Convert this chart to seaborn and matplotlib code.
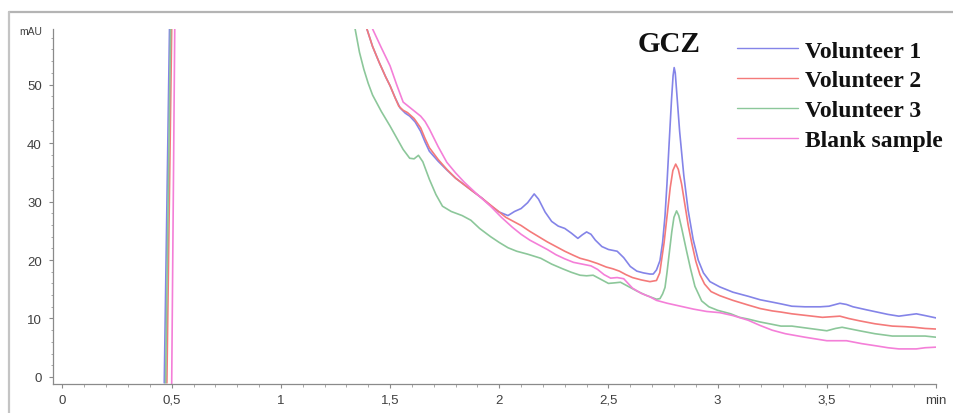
import numpy as np
import pandas as pd
import matplotlib
matplotlib.use("Agg")
import matplotlib.pyplot as plt
from matplotlib.lines import Line2D
from matplotlib.ticker import FixedLocator, MultipleLocator
import seaborn as sns

# ---------------- data ----------------
series_names = ["Volunteer 1", "Volunteer 2", "Volunteer 3", "Blank sample"]

v1_t = [0.466, 0.490, 0.500, 1.380, 1.394, 1.42, 1.45, 1.48, 1.50, 1.525, 1.546, 1.57, 1.59, 1.615,
        1.64, 1.66, 1.68, 1.72, 1.76, 1.80, 1.87, 1.92, 1.96, 2.00, 2.04, 2.07, 2.10, 2.13, 2.16,
        2.18, 2.21, 2.24, 2.27, 2.30, 2.33, 2.36, 2.38, 2.40, 2.42, 2.44, 2.47, 2.50, 2.54, 2.57,
        2.60, 2.63, 2.66, 2.69, 2.705, 2.72, 2.736, 2.748, 2.759, 2.768, 2.778, 2.789, 2.796,
        2.801, 2.806, 2.812, 2.826, 2.845, 2.865, 2.888, 2.911, 2.935, 2.965, 3.01, 3.07,
        3.14, 3.195, 3.25, 3.29, 3.34, 3.40, 3.47, 3.51, 3.56, 3.59, 3.62, 3.68, 3.73, 3.78, 3.83,
        3.87, 3.91, 3.95, 4.0]
v1_y = [-1.0, 59.5, 80, 80, 59.5, 56.5, 53.8, 51.3, 49.8, 47.6, 46.0, 45.1, 44.6, 43.6,
        42.0, 40.2, 38.6, 36.9, 35.4, 34.0, 32.0, 30.6, 29.3, 28.2, 27.6, 28.3, 28.8, 29.8, 31.3,
        30.4, 28.2, 26.6, 25.8, 25.4, 24.6, 23.7, 24.3, 24.8, 24.4, 23.4, 22.3, 21.8, 21.5, 20.4,
        18.9, 18.1, 17.8, 17.6, 17.6, 18.3, 19.9, 23.0, 27.5, 33.0, 40.0, 47.5, 51.5,
        52.9, 52.0, 49.0, 42.0, 34.5, 28.5, 23.5, 20.0, 17.8, 16.3, 15.4, 14.5,
        13.8, 13.2, 12.8, 12.5, 12.1, 12.0, 12.0, 12.1, 12.6, 12.4, 12.0, 11.5, 11.1, 10.7, 10.4,
        10.6, 10.8, 10.5, 10.1]

v2_t = [0.478, 0.500, 0.510, 1.380, 1.394, 1.42, 1.45, 1.48, 1.50, 1.52, 1.54, 1.56, 1.58, 1.61,
        1.64, 1.66, 1.68, 1.72, 1.76, 1.80, 1.87, 1.92, 1.96, 2.00, 2.03, 2.06, 2.10, 2.14, 2.18,
        2.22, 2.26, 2.30, 2.34, 2.37, 2.41, 2.45, 2.49, 2.52, 2.55, 2.58, 2.61, 2.65, 2.69, 2.72,
        2.735, 2.743, 2.755, 2.766, 2.783, 2.795, 2.808, 2.82, 2.835, 2.85, 2.865, 2.881, 2.90,
        2.919, 2.94, 2.97, 3.01, 3.07, 3.14, 3.195, 3.25, 3.29, 3.34, 3.41, 3.48, 3.52, 3.56,
        3.60, 3.65, 3.72, 3.80, 3.86, 3.90, 3.95, 4.0]
v2_y = [-1.0, 59.5, 80, 80, 59.5, 56.5, 53.8, 51.3, 49.8, 48.0, 46.3, 45.6, 45.2, 44.2,
        42.6, 40.8, 39.2, 37.2, 35.5, 34.0, 32.0, 30.6, 29.4, 28.2, 27.3, 26.7, 25.9, 24.9, 24.0,
        23.1, 22.3, 21.5, 20.8, 20.3, 19.9, 19.4, 18.8, 18.5, 18.1, 17.5, 17.0, 16.6, 16.3, 16.5,
        17.8, 19.9, 23.0, 26.7, 32.4, 35.3, 36.4, 35.5, 33.0, 29.5, 26.0, 23.0, 19.8,
        17.5, 15.9, 14.6, 13.9, 13.1, 12.3, 11.7, 11.3, 11.1, 10.8, 10.5, 10.2, 10.3, 10.4,
        10.0, 9.6, 9.1, 8.7, 8.6, 8.5, 8.3, 8.2]

v3_t = [0.472, 0.495, 0.505, 1.330, 1.34, 1.36, 1.38, 1.40, 1.42, 1.46, 1.50, 1.53, 1.56, 1.59,
        1.61, 1.63, 1.65, 1.68, 1.71, 1.74, 1.78, 1.83, 1.87, 1.91, 1.96, 2.00, 2.04, 2.08, 2.13,
        2.19, 2.24, 2.29, 2.33, 2.37, 2.40, 2.43, 2.46, 2.50, 2.53, 2.555, 2.59, 2.63, 2.67, 2.72,
        2.736, 2.748, 2.759, 2.768, 2.778, 2.79, 2.80, 2.812, 2.822, 2.835, 2.858, 2.876, 2.896,
        2.927, 2.96, 3.00, 3.03, 3.06, 3.10, 3.14, 3.195, 3.25, 3.29, 3.34, 3.42, 3.50, 3.54,
        3.57, 3.61, 3.65, 3.72, 3.80, 3.86, 3.91, 3.95, 4.0]
v3_y = [-1.0, 59.5, 80, 80, 59.5, 55.5, 52.6, 50.2, 48.2, 45.4, 42.9, 40.9, 38.9, 37.4,
        37.3, 37.9, 36.8, 33.8, 31.2, 29.2, 28.3, 27.6, 26.8, 25.4, 24.0, 23.0, 22.1, 21.5, 21.0,
        20.3, 19.3, 18.5, 17.9, 17.4, 17.3, 17.4, 16.8, 16.0, 16.1, 16.2, 15.5, 14.7, 14.0, 13.3,
        13.4, 14.2, 15.3, 17.8, 21.0, 24.8, 27.3, 28.4, 27.6, 25.5, 21.5, 18.5, 15.5,
        13.0, 12.0, 11.4, 11.1, 10.8, 10.2, 9.9, 9.4, 9.0, 8.7, 8.7, 8.3, 7.9, 8.3,
        8.5, 8.2, 7.9, 7.4, 7.0, 7.0, 7.0, 7.0, 6.8]

blank_t = [0.500, 0.514, 0.525, 1.410, 1.42, 1.46, 1.50, 1.53, 1.56, 1.60, 1.64, 1.66, 1.68, 1.72,
           1.76, 1.80, 1.84, 1.90, 1.96, 2.01, 2.06, 2.10, 2.14, 2.18, 2.22, 2.26, 2.30, 2.34,
           2.38, 2.42, 2.45, 2.48, 2.51, 2.54, 2.57, 2.61, 2.65, 2.69, 2.72, 2.77, 2.83, 2.89,
           2.95, 3.01, 3.07, 3.14, 3.195, 3.25, 3.31, 3.40, 3.50, 3.55, 3.59, 3.66, 3.73, 3.78,
           3.83, 3.91, 3.95, 4.0]
blank_y = [-1.2, 59.5, 80, 80, 59.5, 56.3, 53.2, 50.0, 47.0, 45.8, 44.6, 43.7, 42.4, 39.4,
           36.7, 34.9, 33.3, 31.2, 29.2, 27.3, 25.6, 24.4, 23.4, 22.6, 21.8, 20.9, 20.2, 19.6,
           19.3, 19.0, 18.4, 17.5, 16.9, 17.0, 16.8, 15.2, 14.3, 13.7, 13.1, 12.6, 12.1, 11.6,
           11.2, 11.0, 10.5, 9.7, 8.8, 8.0, 7.4, 6.8, 6.2, 6.2, 6.2, 5.7, 5.3, 5.0,
           4.8, 4.8, 5.0, 5.1]

x_ticks = [0, 0.5, 1, 1.5, 2, 2.5, 3, 3.5, 4]
x_tick_labels = ["0", "0,5", "1", "1,5", "2", "2,5", "3", "3,5", "min"]
y_ticks = [0, 10, 20, 30, 40, 50]
y_tick_labels = ["0", "10", "20", "30", "40", "50"]
peak_label = "GCZ"
peak_pos = (2.777, 57.0)

colors = ["#8484e8", "#f47a7a", "#8cc79a", "#f47fd8"]

# ---------------- build long-form table ----------------
frames = []
for name, t, y in zip(series_names,
                      [v1_t, v2_t, v3_t, blank_t],
                      [v1_y, v2_y, v3_y, blank_y]):
    frames.append(pd.DataFrame({"t": t, "mAU": y, "sample": name}))
df = pd.concat(frames, ignore_index=True)

# ---------------- plotting ----------------
sns.set_style("white")
plt.rcParams["font.family"] = ["Liberation Sans", "DejaVu Sans"]

fig = plt.figure(figsize=(9.54, 4.14), dpi=100)
ax = fig.add_axes([53 / 954, 29 / 414, (936 - 53) / 954, (385 - 30) / 414])

sns.lineplot(data=df, x="t", y="mAU", hue="sample", hue_order=series_names,
             palette=colors, estimator=None, sort=False, linewidth=1.2, ax=ax)

ax.set_xlim(-0.0435, 4.0)
ax.set_ylim(-1.2, 59.5)
ax.set_xlabel("")
ax.set_ylabel("")

for s in ["top", "right"]:
    ax.spines[s].set_visible(False)
for s in ["left", "bottom"]:
    ax.spines[s].set_color("#8a8a8a")
    ax.spines[s].set_linewidth(0.9)

ax.xaxis.set_major_locator(FixedLocator(x_ticks))
ax.set_xticklabels(x_tick_labels)
ax.yaxis.set_major_locator(FixedLocator(y_ticks))
ax.set_yticklabels(y_tick_labels)
ax.xaxis.set_minor_locator(MultipleLocator(0.1))
ax.yaxis.set_minor_locator(MultipleLocator(2))
ax.tick_params(axis="both", which="major", direction="out", length=3, width=0.8,
               color="#8a8a8a", labelsize=9.5, labelcolor="#404040")
ax.tick_params(axis="both", which="minor", direction="out", length=1.8, width=0.6,
               color="#9a9a9a")
ax.tick_params(axis="x", which="major", pad=4)
ax.tick_params(axis="y", which="major", pad=5)
ax.tick_params(axis="both", which="both", bottom=True, left=True)

ax.text(-0.012, 0.995, "mAU", transform=ax.transAxes, ha="right", va="center",
        fontsize=7.5, color="#404040")

ax.text(peak_pos[0], peak_pos[1], peak_label, ha="center", va="center",
        fontsize=21, fontweight="bold", family=["Liberation Serif", "DejaVu Serif"],
        color="#111111")

handles, labels = ax.get_legend_handles_labels()
leg = ax.legend(handles, labels, loc="upper left",
                bbox_to_anchor=(737 / 954, 1 - 41 / 414), bbox_transform=fig.transFigure,
                frameon=False, borderpad=0, borderaxespad=0, handlelength=2.6,
                handletextpad=0.3, labelspacing=0.35,
                prop={"family": ["Liberation Serif", "DejaVu Serif"], "weight": "bold", "size": 17})
for h in leg.get_lines():
    h.set_linewidth(1.0)
for txt in leg.get_texts():
    txt.set_color("#111111")

# outer grey frame of the original screenshot
fig.add_artist(Line2D([9 / 954, 1.0], [1 - 13 / 414, 1 - 13 / 414], transform=fig.transFigure,
                      color="#b4b4b4", linewidth=1.6))
fig.add_artist(Line2D([9 / 954, 9 / 954], [0, 1 - 13 / 414], transform=fig.transFigure,
                      color="#c4c4c4", linewidth=1.6))

fig.savefig("out.png", dpi=100)
